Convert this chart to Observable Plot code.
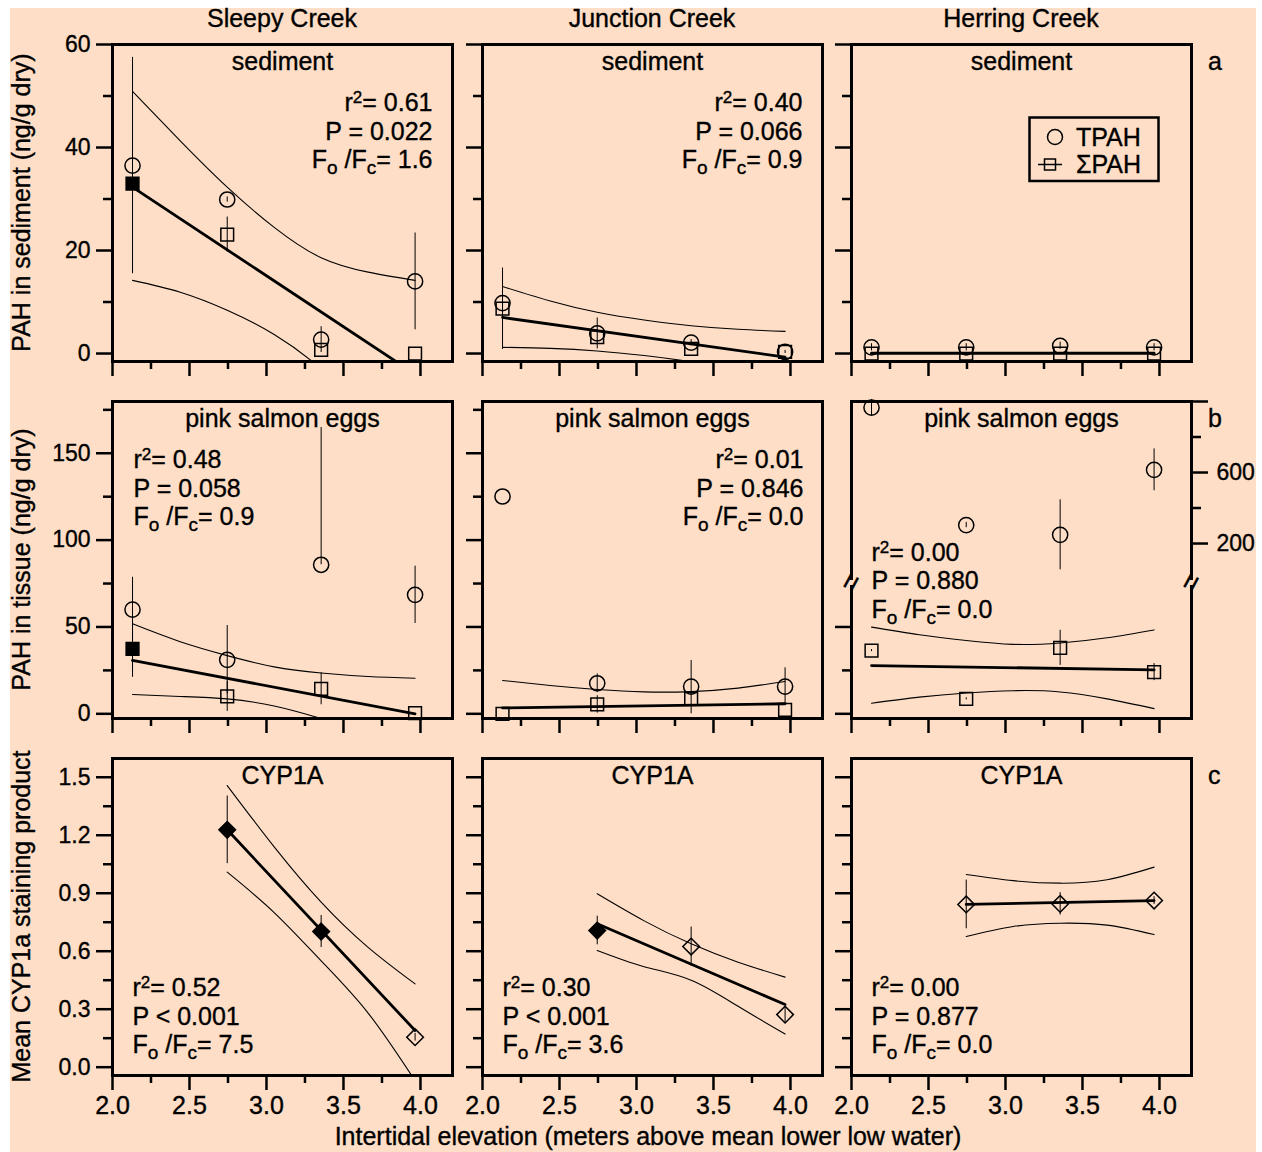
<!DOCTYPE html>
<html><head><meta charset="utf-8">
<script src="https://cdn.jsdelivr.net/npm/d3@7"></script>
<script src="https://cdn.jsdelivr.net/npm/@observablehq/plot@0.6"></script>
<style>
body{margin:0;background:#fff;}
#fig{position:relative;width:1262px;height:1152px;background:#fff;overflow:hidden;font-family:"Liberation Sans",Arial,Helvetica,sans-serif;}
#bg{position:absolute;left:10px;top:8px;width:1246px;height:1144px;background:#fedec6;}
#fig > svg{position:absolute;overflow:visible;}
#fig text{stroke:black;stroke-width:0.35px;}
</style></head><body><div id="fig"><div id="bg"></div></div>
<script>
// ---------------- data ----------------
const creeks = ["Sleepy Creek", "Junction Creek", "Herring Creek"];
const rowTitles = ["PAH in sediment (ng/g dry)", "PAH in tissue (ng/g dry)", "Mean CYP1a staining product"];
const rowLetters = ["a", "b", "c"];
const panelHeaders = ["sediment", "pink salmon eggs", "CYP1A"];
const xTitle = "Intertidal elevation (meters above mean lower low water)";

const elevation = [2.13, 2.745, 3.355, 3.965];
const cypElevation = [2.745, 3.355, 3.965];
const bandElevation = [2.13, 2.44, 2.745, 3.05, 3.355, 3.66, 3.965];
const cypBandElevation = [2.745, 3.05, 3.355, 3.66, 3.965];

// ticks
const xTicks = [2, 2.5, 3, 3.5, 4];
const xMinor = [2.25, 2.75, 3.25, 3.75];
const sedTicks = [0, 20, 40, 60];
const sedMinor = [10, 30, 50];
const tisTicks = [0, 50, 100, 150];
const tisMinor = [25, 75, 125, 175];
const cypTicks = [0, 0.3, 0.6, 0.9, 1.2, 1.5];
const cypMinor = [0.15, 0.45, 0.75, 1.05, 1.35];
const rightTicks = [200, 600, 1000];
const rightMinor = [400, 800];

// a: sediment (rows = Sleepy, Junction, Herring)
const sedTPAH    = [[36.5, 29.9, 2.7, 14.0], [9.8, 3.9, 2.1, 0.3], [1.2, 1.2, 1.5, 1.2]];
const sedTPAHerr = [[21.0, 0.5, 2.5, 9.4], [0.4, 3.0, 0.6, 0.3], [0.7, 0.7, 0.7, 0.7]];
const sedSumPAH    = [[33.0, 23.1, 0.7, 0.0], [8.7, 3.2, 0.9, 0.3], [0, 0, 0, 0]];
const sedSumPAHerr = [[0, 3.4, 0, 0], [7.9, 0, 0, 0], [0, 0, 0, 0]];
const sedSumFilled = [[true, false, false, false], [false, false, false, false], [false, false, false, false]];
const sedFit = [[32.3, -4.0], [7.0, -0.7], [0.05, 0.05]];
const sedBandUpper = [[50.9, 41.3, 32.3, 24.5, 18.6, 15.8, 14.2], [13.0, 10.2, 8.0, 6.5, 5.4, 4.7, 4.3], null];
const sedBandLower = [[14.2, 11.9, 8.4, 3.7, -3.0, -12.0, -21.5], [1.2, 1.0, 0.5, -0.4, -1.6, -3.3, -5.7], null];
const sedStats = [["r²= 0.61", "P = 0.022", "Fo/Fc= 1.6"], ["r²= 0.40", "P = 0.066", "Fo/Fc= 0.9"], null];

// b: pink salmon eggs
const tisTPAH      = [[60.0, 31.1, 85.8, 68.5], [125.1, 17.6, 15.7, 15.7], [966, 304, 249, 615]];
const tisTPAHerrUp = [[18.6, 19.7, 79, 16.5], [0, 5.4, 15.0, 10.8], [45, 15, 197, 118]];
const tisTPAHerrDn = [[18.6, 19.7, 0, 16.5], [0, 5.4, 15.7, 10.8], [45, 15, 197, 118]];
const tisSumPAH    = [[37.4, 10.0, 14.4, 0.4], [0.0, 5.4, 8.6, 2.3], [36.4, 8.6, 38.0, 24.0]];
const tisSumPAHerr = [[16.4, 8.6, 9.2, 0], [0, 5.0, 0, 0], [0.6, 0.6, 10.1, 4.9]];
const tisSumFilled = [[true, false, false, false], [false, false, false, false], [false, false, false, false]];
const tisFit = [[30.7, 0.0], [3.4, 5.8], [27.8, 25.3]];
const tisBandUpper = [[51.8, 41.5, 33.5, 27.0, 23.5, 21.5, 20.5], [19.2, 16.3, 14.0, 12.6, 12.8, 14.8, 18.6], [49.9, 45.5, 42.2, 40.0, 40.8, 43.8, 48.3]];
const tisBandLower = [[11.1, 10.0, 8.6, 4.5, -2.7, -11.0, -20.0], [-12.4, -8.9, -5.8, -3.6, -3.5, -4.8, -7.0], [6.1, 9.6, 12.0, 13.3, 12.6, 8.6, 3.0]];
const tisStats = [["r²= 0.48", "P = 0.058", "Fo/Fc= 0.9"], ["r²= 0.01", "P = 0.846", "Fo/Fc= 0.0"], ["r²= 0.00", "P = 0.880", "Fo/Fc= 0.0"]];

// c: CYP1A
const cyp       = [[1.228, 0.702, 0.155], [0.707, 0.624, 0.272], [0.842, 0.845, 0.862]];
const cypErr    = [[0.175, 0.083, 0.02], [0.074, 0.101, 0.04], [0.126, 0.058, 0.02]];
const cypFilled = [[true, true, false], [true, false, false], [false, false, false]];
const cypFit = [[1.228, 0.19], [0.742, 0.324], [0.842, 0.862]];
const cypBandUpper = [[1.457, 1.14, 0.854, 0.62, 0.431], [0.897, 0.757, 0.638, 0.543, 0.466], [0.997, 0.965, 0.952, 0.97, 1.035]];
const cypBandLower = [[1.009, 0.80, 0.55, 0.28, -0.07], [0.604, 0.52, 0.45, 0.315, 0.172], [0.676, 0.728, 0.745, 0.735, 0.686]];
const cypStats = [["r²= 0.52", "P < 0.001", "Fo/Fc= 7.5"], ["r²= 0.30", "P < 0.001", "Fo/Fc= 3.6"], ["r²= 0.00", "P = 0.877", "Fo/Fc= 0.0"]];

// ---------------- layout ----------------
const FONT = '"Liberation Sans", Arial, Helvetica, sans-serif';
const INK = "black";
const FS = 25;
const colLeft = [112, 482, 851];
const rowTop = [44, 401, 758];
const PW = 340, PH = 317;
const ML = 70, MR = 70;
const X_DOMAIN = [2, 4.208];
const SED_DOMAIN = [-1.55, 60];
const TIS_DOMAIN = [-2.7, 179.8];
const CYP_DOMAIN = [-0.043, 1.597];
const UPPER_DOMAIN = [3, 1000];     // broken-axis upper part (Herring TPAH)
const LOWER_DOMAIN = [-2.7, 73.3];  // broken-axis lower part
const fig = document.getElementById("fig");
const SVGNS = "http://www.w3.org/2000/svg";

function richText(svg) {
  svg.querySelectorAll("text, tspan").forEach(el => {
    if (el.children.length) return;
    const t = el.textContent;
    let parts = null;
    if (t.startsWith("Fo/Fc")) parts = [["F", 0], ["o", 1], [" /F", 0], ["c", 1], [t.slice(5), 0]];
    else if (t.startsWith("r²")) parts = [["r", 0], ["2", -1], [t.slice(2), 0]];
    if (!parts) return;
    el.textContent = "";
    let shift = 0;
    for (const [s, kind] of parts) {
      const ts = document.createElementNS(SVGNS, "tspan");
      const target = kind === 1 ? 6 : kind === -1 ? -8 : 0;
      if (target !== shift) { ts.setAttribute("dy", String(target - shift)); shift = target; }
      if (kind === 1) ts.setAttribute("font-size", "19");
      if (kind === -1) ts.setAttribute("font-size", "17");
      ts.textContent = s;
      el.appendChild(ts);
    }
  });
  // thicker axis ticks
  svg.querySelectorAll('g[aria-label$="tick"]').forEach(g => g.setAttribute("stroke-width", "2.5"));
}

function place(svg, left, top) {
  svg.style.left = left + "px";
  svg.style.top = top + "px";
  richText(svg);
  fig.appendChild(svg);
}

function xAxisMarks(labels) {
  return [
    Plot.axisX(xTicks, {anchor: "bottom", tickSize: 15, tickPadding: 6, strokeWidth: 2.5, fontSize: 25,
      tickFormat: labels ? d3.format(".1f") : () => "", label: null}),
    Plot.axisX(xMinor, {anchor: "bottom", tickSize: 8, strokeWidth: 2.5, tickFormat: () => "", label: null})
  ];
}
function yAxisMarks(major, minor, fmt, labels, anchor, domain, pad = 6) {
  const inD = v => v >= domain[0] && v <= domain[1];
  return [
    Plot.axisY(major.filter(inD), {anchor, tickSize: 16, tickPadding: pad, strokeWidth: 2.5, fontSize: 23,
      tickFormat: labels ? fmt : () => "", label: null}),
    Plot.axisY(minor.filter(inD), {anchor, tickSize: 9, strokeWidth: 2.5, tickFormat: () => "", label: null})
  ];
}
function pointMarks(xs, vals, up, dn, symbol, filled, r) {
  const pts = xs.map((x, i) => ({x, y: vals[i], lo: vals[i] - dn[i], hi: vals[i] + up[i], filled: filled ? filled[i] : false}));
  return [
    Plot.ruleX(pts.filter(d => d.hi > d.lo), {x: "x", y1: "lo", y2: "hi", stroke: INK, strokeWidth: 1}),
    Plot.dot(pts.filter(d => !d.filled), {x: "x", y: "y", symbol, r, stroke: INK, strokeWidth: 1.5, fill: "none"}),
    Plot.dot(pts.filter(d => d.filled), {x: "x", y: "y", symbol, r, stroke: INK, strokeWidth: 1.5, fill: INK})
  ];
}
function fitMark(x0, x1, ys) {
  return Plot.line([{x: x0, y: ys[0]}, {x: x1, y: ys[1]}], {x: "x", y: "y", stroke: INK, strokeWidth: 2.8, clip: true});
}
function bandMarks(xs, upper, lower) {
  if (!upper) return [];
  const rows = [
    ...xs.map((x, i) => ({x, y: upper[i], side: "upper"})),
    ...xs.map((x, i) => ({x, y: lower[i], side: "lower"}))
  ];
  return [Plot.line(rows, {x: "x", y: "y", z: "side", curve: "natural", stroke: INK, strokeWidth: 1.1, clip: true})];
}
function headerMark(s) {
  return Plot.text([s], {text: d => d, frameAnchor: "top", dy: 8, lineAnchor: "top", fontSize: FS, fill: INK});
}
function statsMark(lines, frameAnchor, dx, dy, lineAnchor) {
  if (!lines) return [];
  return [Plot.text([lines.join("\n")], {text: d => d, frameAnchor, dx, dy, lineAnchor, lineHeight: 1.14,
    fontSize: FS, fill: INK, textAnchor: frameAnchor.endsWith("right") ? "end" : "start"})];
}
function makePlot(yDomain, h, mt, mb, marks, xAxisOn = true) {
  return Plot.plot({
    width: ML + PW + MR, height: mt + h + mb,
    marginLeft: ML, marginRight: MR, marginTop: mt, marginBottom: mb,
    x: {domain: X_DOMAIN, ...(xAxisOn ? {} : {axis: null})},
    y: {domain: yDomain},
    style: {background: "transparent", overflow: "visible", fontFamily: FONT, fontSize: "23px", color: INK},
    marks
  });
}

const MT = 14, MB = 50, FRAME_W = 3;

// Row a: sediment
creeks.forEach((_, c) => {
  const marks = [
    Plot.frame({stroke: INK, strokeWidth: FRAME_W}),
    ...xAxisMarks(false),
    ...yAxisMarks(sedTicks, sedMinor, d3.format("d"), c === 0, "left", SED_DOMAIN),
    ...bandMarks(bandElevation, sedBandUpper[c], sedBandLower[c]),
    fitMark(elevation[0], elevation[3], sedFit[c]),
    ...pointMarks(elevation, sedTPAH[c], sedTPAHerr[c], sedTPAHerr[c], "circle", null, 7.6),
    ...pointMarks(elevation, sedSumPAH[c], sedSumPAHerr[c], sedSumPAHerr[c], "square", sedSumFilled[c], 7.2),
    headerMark(panelHeaders[0]),
    ...statsMark(sedStats[c], "top-right", -20, 46.5, "top")
  ];
  place(makePlot(SED_DOMAIN, PH, MT, MB, marks), colLeft[c] - ML, rowTop[0] - MT);
});

// Row b: tissue (Sleepy, Junction)
[0, 1].forEach(c => {
  const marks = [
    Plot.frame({stroke: INK, strokeWidth: FRAME_W}),
    ...xAxisMarks(false),
    ...yAxisMarks(tisTicks, tisMinor, d3.format("d"), c === 0, "left", TIS_DOMAIN),
    ...bandMarks(bandElevation, tisBandUpper[c], tisBandLower[c]),
    fitMark(elevation[0], elevation[3], tisFit[c]),
    ...pointMarks(elevation, tisTPAH[c], tisTPAHerrUp[c], tisTPAHerrDn[c], "circle", null, 7.6),
    ...pointMarks(elevation, tisSumPAH[c], tisSumPAHerr[c], tisSumPAHerr[c], "square", tisSumFilled[c], 7.2),
    headerMark(panelHeaders[1]),
    ...(c === 0 ? statsMark(tisStats[c], "top-left", 21, 46.5, "top") : statsMark(tisStats[c], "top-right", -19, 46.5, "top"))
  ];
  place(makePlot(TIS_DOMAIN, PH, MT, MB, marks), colLeft[c] - ML, rowTop[1] - MT);
});

// Row b: Herring (broken axis) — upper part
{
  const H_UP = 177;
  const marks = [
    Plot.frame({anchor: "top", stroke: INK, strokeWidth: FRAME_W}),
    Plot.frame({anchor: "left", stroke: INK, strokeWidth: FRAME_W}),
    Plot.frame({anchor: "right", stroke: INK, strokeWidth: FRAME_W}),
    ...yAxisMarks(rightTicks, rightMinor, d => (d < 1000 ? String(d) : ""), true, "right", UPPER_DOMAIN, 9),
    ...pointMarks(elevation, tisTPAH[2], tisTPAHerrUp[2], tisTPAHerrDn[2], "circle", null, 7.6),
    headerMark(panelHeaders[1])
  ];
  place(makePlot(UPPER_DOMAIN, H_UP, MT, 0, marks, false), colLeft[2] - ML, rowTop[1] - MT);
}
// lower part
{
  const TOP_LO = 586, H_LO = 132;
  const brk = anchor => Plot.text(["="], {text: d => d, frameAnchor: anchor, dy: -4, lineAnchor: "middle", textAnchor: "middle",
    rotate: -62, fontSize: 30, fill: INK});
  const marks = [
    Plot.frame({anchor: "left", stroke: INK, strokeWidth: FRAME_W}),
    Plot.frame({anchor: "right", stroke: INK, strokeWidth: FRAME_W}),
    Plot.frame({anchor: "bottom", stroke: INK, strokeWidth: FRAME_W}),
    ...xAxisMarks(false),
    ...yAxisMarks(tisTicks, tisMinor, d3.format("d"), false, "left", LOWER_DOMAIN),
    ...bandMarks(bandElevation, tisBandUpper[2], tisBandLower[2]),
    fitMark(elevation[0], elevation[3], tisFit[2]),
    ...pointMarks(elevation, tisSumPAH[2], tisSumPAHerr[2], tisSumPAHerr[2], "square", tisSumFilled[2], 7.2),
    ...statsMark(tisStats[2], "bottom-left", 20, -101, "bottom"),
    brk("top-left"),
    brk("top-right")
  ];
  place(makePlot(LOWER_DOMAIN, H_LO, MT, MB, marks), colLeft[2] - ML, TOP_LO - MT);
}

// Row c: CYP1A
creeks.forEach((_, c) => {
  const marks = [
    Plot.frame({stroke: INK, strokeWidth: FRAME_W}),
    ...xAxisMarks(true),
    ...yAxisMarks(cypTicks, cypMinor, d3.format(".1f"), c === 0, "left", CYP_DOMAIN),
    ...bandMarks(cypBandElevation, cypBandUpper[c], cypBandLower[c]),
    fitMark(cypElevation[0], cypElevation[2], cypFit[c]),
    ...pointMarks(cypElevation, cyp[c], cypErr[c], cypErr[c], "diamond2", cypFilled[c], 7.5),
    headerMark(panelHeaders[2]),
    ...statsMark(cypStats[c], "bottom-left", 20, -22.3, "bottom")
  ];
  place(makePlot(CYP_DOMAIN, PH, MT, MB, marks), colLeft[c] - ML, rowTop[2] - MT);
});

// ---------------- outer text & legend ----------------
const ov = d3.create("svg").attr("width", 1262).attr("height", 1152)
  .style("left", "0px").style("top", "0px")
  .attr("font-family", FONT).attr("font-size", FS).attr("fill", INK);
creeks.forEach((name, c) => ov.append("text").attr("x", colLeft[c] + PW / 2).attr("y", 27).attr("text-anchor", "middle").text(name));
rowTitles.forEach((t, r) => ov.append("text").attr("transform", `translate(30,${rowTop[r] + PH / 2}) rotate(-90)`).attr("text-anchor", "middle").text(t));
rowLetters.forEach((t, r) => ov.append("text").attr("x", 1208).attr("y", rowTop[r] + 26).text(t));
ov.append("text").attr("x", 648).attr("y", 1145).attr("text-anchor", "middle").text(xTitle);

const lg = ov.append("g");
lg.append("rect").attr("x", 1029.5).attr("y", 117.5).attr("width", 129).attr("height", 63.5).attr("fill", "none").attr("stroke", INK).attr("stroke-width", 2.5);
lg.append("circle").attr("cx", 1055).attr("cy", 137).attr("r", 7.5).attr("fill", "none").attr("stroke", INK).attr("stroke-width", 1.5);
lg.append("text").attr("x", 1076).attr("y", 146).text("TPAH");
lg.append("line").attr("x1", 1038).attr("x2", 1062).attr("y1", 164.5).attr("y2", 164.5).attr("stroke", INK).attr("stroke-width", 1.5);
lg.append("rect").attr("x", 1044.5).attr("y", 159).attr("width", 11).attr("height", 11).attr("fill", "none").attr("stroke", INK).attr("stroke-width", 1.5);
lg.append("text").attr("x", 1076).attr("y", 172.5).text("ΣPAH");
fig.appendChild(ov.node());
</script></body></html>
